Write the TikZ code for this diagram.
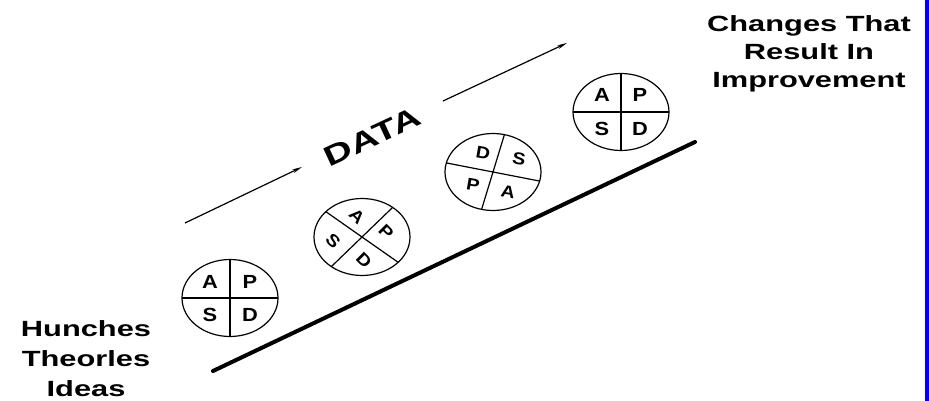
\documentclass[tikz,border=0pt]{standalone}
\usepackage{fontspec}
\usepackage{tikz}
\usetikzlibrary{positioning,shapes.geometric,arrows.meta}
\newfontfamily\labelfont[FakeStretch=1.4]{Liberation Sans}
\newfontfamily\wheelfont[FakeStretch=1.15]{Liberation Sans}
\definecolor{barblue}{RGB}{6,0,235}
\tikzset{
wheel/.style = {draw, ellipse, minimum width=96pt, minimum height=77pt,
                inner sep=0pt, outer sep=0pt, line width=1.2pt},
spoke/.style = {line width=1.2pt},
letter/.style = {inner sep=0pt, font=\wheelfont\bfseries\fontsize{19}{19}\selectfont},
tilted/.style = {inner sep=0pt, font=\wheelfont\bfseries\fontsize{17}{17}\selectfont},
caption/.style = {align=center, inner sep=0pt, anchor=north,
                  font=\labelfont\bfseries\fontsize{22}{#1}\selectfont},
datalabel/.style = {inner sep=0pt, rotate=25,
                    font=\labelfont\bfseries\fontsize{28}{28}\selectfont},
flow/.style = {-{Stealth[length=10pt,width=4pt]}, line width=1.2pt},
ramp/.style = {line width=4pt, line cap=round},
point/.style = {coordinate}
}

\begin{document}
\begin{tikzpicture}[x=1pt, y=-1pt, on grid]
    \useasboundingbox (0,0) rectangle (929,401);
    \fill [barblue] (925,0) rectangle (929,401);

    % the slope
    \node [point, name=rampstart] (rampstart) at (213,371) {};
    \node [point, name=rampend] (rampend) at (695,142) {};
    \draw [ramp] (rampstart) -- (rampend);

    % first cycle
    \node [wheel, name=w1] (w1) at (230,298) {};
    \draw [spoke] (w1.north) -- (w1.south);
    \draw [spoke] (w1.west) -- (w1.east);
    \node [letter, above left=16pt and 20pt of w1, name=w1a] (w1a) {A};
    \node [letter, above right=16pt and 20pt of w1, name=w1p] (w1p) {P};
    \node [letter, below left=17pt and 20pt of w1, name=w1s] (w1s) {S};
    \node [letter, below right=17pt and 20pt of w1, name=w1d] (w1d) {D};

    % second cycle, turned
    \node [wheel, name=w2] (w2) at (362,237) {};
    \draw [spoke] (w2.-35) -- (w2.145);
    \draw [spoke] (w2.44) -- (w2.224);
    \node [tilted, rotate=-45, above left=21pt and 5pt of w2, name=w2a] (w2a) {A};
    \node [tilted, rotate=-45, above right=5pt and 24pt of w2, name=w2p] (w2p) {P};
    \node [tilted, rotate=-45, below right=23pt and 2pt of w2, name=w2d] (w2d) {D};
    \node [tilted, rotate=-45, below left=4pt and 29pt of w2, name=w2s] (w2s) {S};

    % third cycle
    \node [wheel, name=w3] (w3) at (493,172) {};
    \draw [spoke] (w3.-11) -- (w3.169);
    \draw [spoke] (w3.73) -- (w3.253);
    \node [tilted, rotate=-10, above left=19pt and 10pt of w3, name=w3d] (w3d) {D};
    \node [tilted, rotate=-10, above right=13pt and 26pt of w3, name=w3s] (w3s) {S};
    \node [tilted, rotate=-10, below left=13pt and 20pt of w3, name=w3p] (w3p) {P};
    \node [tilted, rotate=-10, below right=20pt and 15pt of w3, name=w3a] (w3a) {A};

    % last cycle
    \node [wheel, name=w4] (w4) at (621,112) {};
    \draw [spoke] (w4.north) -- (w4.south);
    \draw [spoke] (w4.west) -- (w4.east);
    \node [letter, above left=17pt and 19pt of w4, name=w4a] (w4a) {A};
    \node [letter, above right=17pt and 19pt of w4, name=w4p] (w4p) {P};
    \node [letter, below left=17pt and 19pt of w4, name=w4s] (w4s) {S};
    \node [letter, below right=17pt and 19pt of w4, name=w4d] (w4d) {D};

    % data arrows
    \node [point, name=lowtail] (lowtail) at (185,223) {};
    \node [point, name=lowhead] (lowhead) at (302,167) {};
    \draw [flow] (lowtail) -- (lowhead);
    \node [datalabel, name=data] (data) at (372,137) {DATA};
    \node [point, name=uptail] (uptail) at (443,101) {};
    \node [point, name=uphead] (uphead) at (567,43) {};
    \draw [flow] (uptail) -- (uphead);

    \node [caption=30, name=hunches] (hunches) at (86,320)
    {Hunches\\Theorles\\Ideas};
    \node [caption=28, name=changes] (changes) at (809,15)
    {Changes That\\Result In\\Improvement};
\end{tikzpicture}
\end{document}
